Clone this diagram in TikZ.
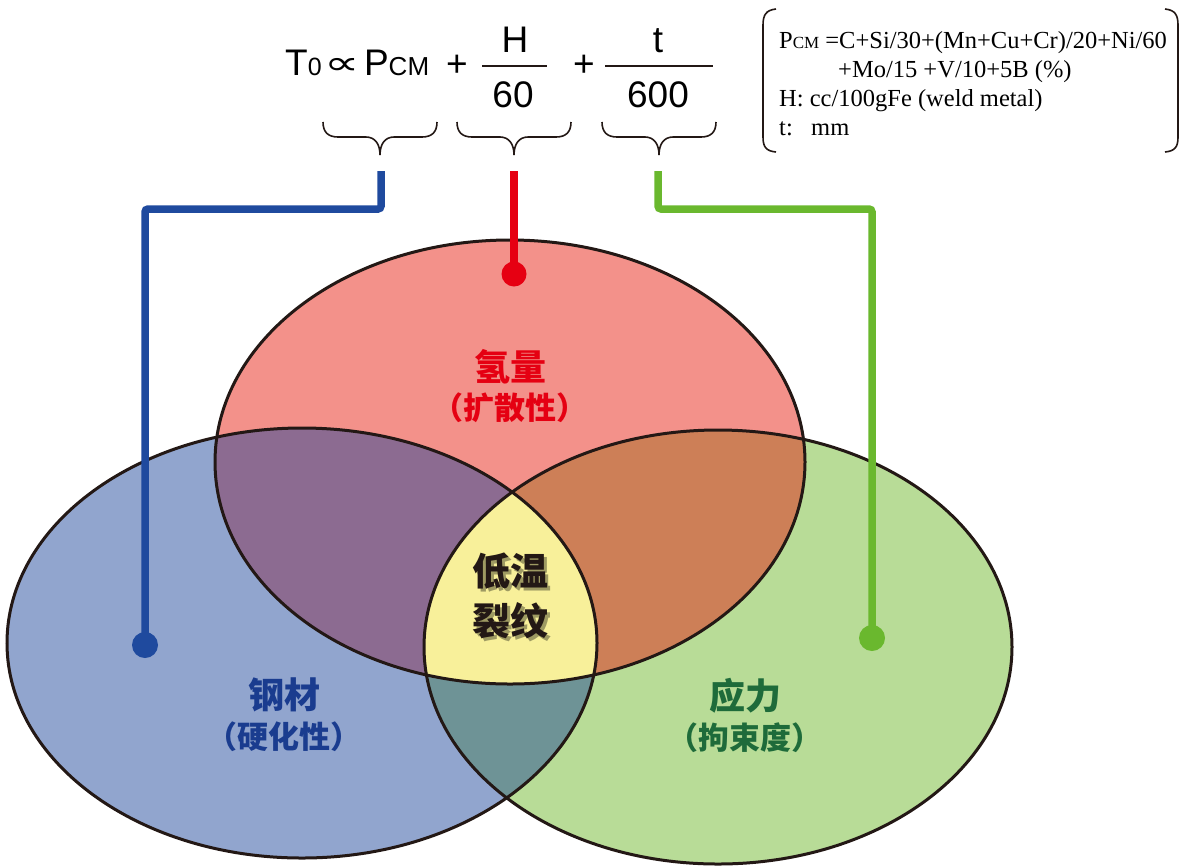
\documentclass[tikz,border=0pt]{standalone}
\usepackage{fontspec}
\usepackage{graphicx}
\setmainfont{Liberation Serif}
\newfontfamily\sansf{Liberation Sans}
\newfontfamily\dejav{DejaVu Sans}
\newfontfamily\cjk{Noto Sans CJK SC}
\definecolor{bluefill}{HTML}{91A5CE}
\definecolor{greenfill}{HTML}{B8DC97}
\definecolor{redfill}{HTML}{F3918A}
\definecolor{rbfill}{HTML}{8C6B91}
\definecolor{rgfill}{HTML}{CD7F57}
\definecolor{bgfill}{HTML}{6E9396}
\definecolor{yfill}{HTML}{F8F09A}
\definecolor{outl}{HTML}{231815}
\definecolor{bluel}{HTML}{1F4A9E}
\definecolor{redl}{HTML}{E60012}
\definecolor{greenl}{HTML}{6AB82E}
\definecolor{bluet}{HTML}{1A3C8F}
\definecolor{redt}{HTML}{E50012}
\definecolor{greent}{HTML}{1E6B3A}
\definecolor{shad}{HTML}{9E9A62}
\tikzset{
  ell/.style={draw=outl, line width=3pt},
  conn/.style={line width=7.5pt, rounded corners=3pt},
  brk/.style={draw=outl, line width=1.6pt},
  ubrace/.pic={
    \draw[brk] (-57,0) .. controls (-57,10) and (-52,15) .. (-42,15) -- (-14,15) .. controls (-5,15) and (0,22) .. (0,33);
    \draw[brk] (57,0) .. controls (57,10) and (52,15) .. (42,15) -- (14,15) .. controls (5,15) and (0,22) .. (0,33);
  },
  fml/.style={font=\sansf\fontsize{37}{42}\selectfont, inner sep=0pt, anchor=base},
  boxt/.style={font=\fontsize{24.5}{28}\selectfont, inner sep=0pt, anchor=base west},
  lab1/.style={font=\cjk\bfseries\fontsize{36}{42}\selectfont, inner sep=0pt},
  lab2/.style={font=\cjk\bfseries\fontsize{31}{36}\selectfont, inner sep=0pt},
  ctr/.style={font=\cjk\bfseries\fontsize{38}{44}\selectfont, inner sep=0pt},
}
\newcommand{\shd}[1]{\makebox[0pt][l]{\kern3pt\raisebox{-3pt}{\textcolor{shad}{#1}}}#1}
\newcommand{\redE}{(510,462) ellipse [x radius=295pt, y radius=222pt]}
\newcommand{\blueE}{(302,643) ellipse [x radius=295pt, y radius=215pt]}
\newcommand{\greenE}{(718,647) ellipse [x radius=294pt, y radius=217pt]}
\begin{document}
\begin{tikzpicture}[x=1pt,y=-1pt]
\useasboundingbox (0,0) rectangle (1182,865);
% ellipse fills
\fill[bluefill] \blueE;
\fill[greenfill] \greenE;
\fill[redfill] \redE;
\begin{scope}\clip \redE; \fill[rbfill] \blueE; \end{scope}
\begin{scope}\clip \redE; \fill[rgfill] \greenE; \end{scope}
\begin{scope}\clip \blueE; \fill[bgfill] \greenE; \end{scope}
\begin{scope}\clip \redE; \clip \blueE; \fill[yfill] \greenE; \end{scope}
\draw[ell] \blueE;
\draw[ell] \greenE;
\draw[ell] \redE;
% formula
\node[fml, anchor=base west] (t0) at (285,75)
  {T{\fontsize{25}{30}\selectfont 0}\kern3pt\raisebox{1pt}{\scalebox{1.5}[1]{\dejav\fontsize{33}{40}\selectfont ∝}}\kern4pt P{\fontsize{26}{30}\selectfont CM}};
\node[fml, anchor=center] (p1) at (457,66) {+};
\node[fml] (hn) at (515,52) {H};
\draw[line width=1.6pt, outl] (482,66) -- (547,66);
\node[fml] (hd) at (513,107) {60};
\node[fml, anchor=center] (p2) at (584,66) {+};
\node[fml] (tn) at (658,52) {t};
\draw[line width=1.6pt, outl] (605,66) -- (713,66);
\node[fml] (td) at (658,107) {600};
% braces
\pic at (380,122) {ubrace};
\pic at (514,122) {ubrace};
\pic at (659,122) {ubrace};
% bracket box
\draw[brk] (776,9) .. controls (766,10) and (763,15) .. (763,25) -- (763,137) .. controls (763,147) and (766,151) .. (776,152);
\draw[brk] (1165,9) .. controls (1175,10) and (1178,15) .. (1178,25) -- (1178,137) .. controls (1178,147) and (1175,151) .. (1165,152);
\node[boxt] (l1) at (779,48) {P{\fontsize{17}{20}\selectfont CM} =C+Si/30+(Mn+Cu+Cr)/20+Ni/60};
\node[boxt] (l2) at (838,77) {+Mo/15 +V/10+5B (\%)};
\node[boxt] (l3) at (779,106) {H: cc/100gFe (weld metal)};
\node[boxt] (l4) at (779,135) {t:};
\node[boxt] (l4b) at (811,135) {mm};
% connectors
\coordinate (bs) at (381,171);
\coordinate (rs) at (514,171);
\coordinate (gs) at (658,171);
\coordinate (bd) at (145,645);
\coordinate (rd) at (514,274);
\coordinate (gd) at (872,638);
\draw[conn, bluel] (bs) -- ++(0,38) -| (bd);
\draw[conn, redl] (rs) -- (rd);
\draw[conn, greenl] (gs) -- ++(0,38) -| (gd);
\fill[bluel] (bd) circle (13pt);
\fill[redl] (rd) circle (12.5pt);
\fill[greenl] (gd) circle (13pt);
% labels
\node[lab1, text=redt] (r1) at (510,367) {氢量};
\node[lab2, text=redt] (r2) at (510,408) {（扩散性）};
\node[lab1, text=bluet] (b1) at (284,695) {钢材};
\node[lab2, text=bluet] (b2) at (284,737) {（硬化性）};
\node[lab1, text=greent] (g1) at (745,696) {应力};
\node[lab2, text=greent] (g2) at (745,738) {（拘束度）};
% center
\node[ctr, text=outl, align=center] (c) at (510,597) {\shd{低温}\\[6pt]\shd{裂纹}};
\end{tikzpicture}
\end{document}
